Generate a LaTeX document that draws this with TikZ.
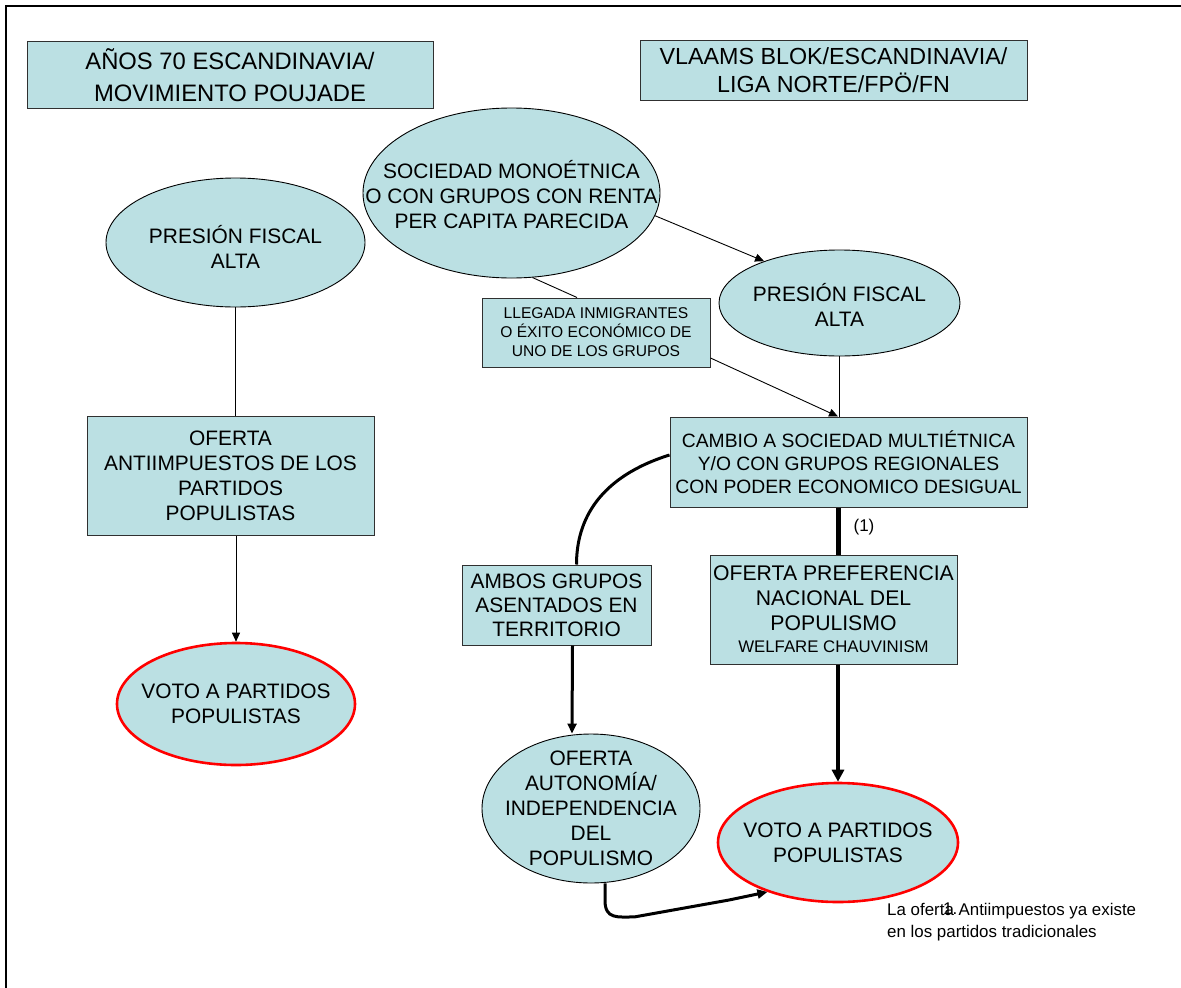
\documentclass[tikz,border=0pt]{standalone}
\usepackage{fontspec}
\setmainfont{Liberation Sans}
\usetikzlibrary{shapes.geometric,arrows.meta,calc}
\definecolor{boxfill}{HTML}{BBE0E3}
\definecolor{boxline}{HTML}{303030}
\newcommand{\fsz}[2]{\fontsize{#1}{#2}\selectfont}
\begin{document}
\begin{tikzpicture}[x=1pt,y=-1pt,
  rbox/.style={draw=boxline,line width=1pt,fill=boxfill,rectangle,inner sep=0pt,align=center},
  ell/.style={draw=black,line width=0.9pt,fill=boxfill,ellipse,inner sep=0pt},
  redell/.style={draw=red,line width=2.6pt,fill=boxfill,ellipse,inner sep=0pt},
  lbl/.style={align=center,inner sep=0pt,font=\fsz{20.9}{25}},
  body/.style={font=\fsz{20.9}{25}},
  cnthin/.style={draw=black,line width=0.9pt},
  cnthinarrow/.style={cnthin,-{Triangle[length=9pt,width=8pt]}},
  cnmid/.style={draw=black,line width=3pt},
  cnmidarrow/.style={cnmid,-{Triangle[length=10pt,width=9pt]}},
  cnfat/.style={draw=black,line width=5pt},
  cnfatarrow/.style={draw=black,line width=4pt,-{Triangle[length=12pt,width=12pt]}}
]
\useasboundingbox (0,0) rectangle (1181,988);
\fill[white] (0,0) rectangle (1181,988);
% frame
\draw[line width=2pt] (6,990) -- (6,6) -- (1183,6);

% title boxes
\node[rbox,minimum width=406pt,minimum height=67pt,font=\fsz{23.8}{32}] (t1) at (230,75)
  {AÑOS 70 ESCANDINAVIA/\\MOVIMIENTO POUJADE};
\node[rbox,minimum width=387pt,minimum height=60pt,font=\fsz{23.3}{28}] (t2) at (833.5,70)
  {VLAAMS BLOK/ESCANDINAVIA/\\LIGA NORTE/FPÖ/FN};

% left column
\node[ell,minimum width=259pt,minimum height=129pt,
  label={[lbl,yshift=-4pt]center:PRESIÓN FISCAL\\ALTA}] (presL) at (235.5,242.5) {};
\node[rbox,minimum width=287pt,minimum height=119pt,body] (antii) at (230.5,475.5)
  {OFERTA\\ANTIIMPUESTOS DE LOS\\PARTIDOS\\POPULISTAS};
\node[redell,minimum width=238pt,minimum height=122pt,
  label={[lbl]center:VOTO A PARTIDOS\\POPULISTAS}] (vL) at (236,704) {};

% right part
\node[ell,minimum width=297pt,minimum height=170pt,
  label={[lbl,yshift=-2pt]center:SOCIEDAD MONOÉTNICA\\O CON GRUPOS CON RENTA\\PER CAPITA PARECIDA}] (soc) at (511.5,193) {};
\node[ell,minimum width=241pt,minimum height=106pt,
  label={[lbl,yshift=-2pt]center:PRESIÓN FISCAL\\ALTA}] (presR) at (839.5,303) {};
\node[rbox,minimum width=228pt,minimum height=69pt,font=\fsz{15.6}{19}] (lleg) at (596,332.5)
  {LLEGADA INMIGRANTES\\O ÉXITO ECONÓMICO DE\\UNO DE LOS GRUPOS};
\node[rbox,minimum width=357pt,minimum height=90pt,font=\fsz{19.3}{23}] (cambio) at (848.5,462)
  {CAMBIO A SOCIEDAD MULTIÉTNICA\\Y/O CON GRUPOS REGIONALES\\CON PODER ECONOMICO DESIGUAL};
\node[rbox,minimum width=189pt,minimum height=80pt,font=\fsz{20.9}{24}] (ambos) at (556.5,605)
  {AMBOS GRUPOS\\ASENTADOS EN\\TERRITORIO};
\node[rbox,minimum width=247pt,minimum height=109pt,font=\fsz{21.2}{25}] (pref) at (833.5,609.5)
  {OFERTA PREFERENCIA\\NACIONAL DEL\\POPULISMO\\[-3pt]{\fsz{16.8}{20}WELFARE CHAUVINISM}};
\node[ell,minimum width=218pt,minimum height=149pt,
  label={[lbl]center:OFERTA\\AUTONOMÍA/\\INDEPENDENCIA\\DEL\\POPULISMO}] (auto) at (591,808.5) {};
\node[redell,minimum width=240pt,minimum height=119pt,
  label={[lbl]center:VOTO A PARTIDOS\\POPULISTAS}] (vR) at (838,842.5) {};

% labels
\node[font=\fsz{17}{20},inner sep=0pt] (one) at (864,527) {(1)};
\node[font=\fsz{16.9}{22},align=left,anchor=west,inner sep=0pt] (note) at (887,922)
  {La oferta Antiimpuestos ya existe\\en los partidos tradicionales};
\node[font=\fsz{16.9}{22},inner sep=0pt,anchor=base west] (notemark) at (943,914) {1.};

% connectors left
\draw[cnthin] (presL.south) -- (presL.south |- antii.north);
\draw[cnthinarrow] (vL.north |- antii.south) -- (vL.north);

% connectors right
\draw[cnthin] (soc.-76) -- ([xshift=-19pt]lleg.north);
\draw[cnthinarrow] (soc.-9.5) -- (presR.151);
\draw[cnthin] (presR.south) -- (presR.south |- cambio.north);
\draw[cnthinarrow] ([yshift=-25.5pt]lleg.east) -- ([xshift=-1.5pt]presR.south |- cambio.north);
\draw[cnfat] ([xshift=-1.5pt]cambio.south -| presR.south) -- ([xshift=-1.5pt]pref.north -| presR.south);
\draw[cnfatarrow] (pref.south -| vR.north) -- (vR.north);
\draw[cnmid] ([yshift=7pt]cambio.west) .. controls ([xshift=-70pt,yshift=-15pt]cambio.west)
  and ([xshift=20pt,yshift=45pt]ambos.north) .. ([xshift=20pt]ambos.north);
\draw[cnmidarrow] ([xshift=16pt]ambos.south) -- ([xshift=-19pt]auto.north);
\draw[cnmidarrow] ([xshift=14pt]auto.south) -- ([xshift=14pt,yshift=-17pt]auto.south)
  .. controls ([xshift=14pt,yshift=-36pt]auto.south) and ([xshift=-150pt,yshift=-25pt]vR.-145)
  .. ([xshift=-133pt,yshift=-25pt]vR.-145) -- ([xshift=-38pt,yshift=-8pt]vR.-145) -- (vR.-145);
\end{tikzpicture}
\end{document}
